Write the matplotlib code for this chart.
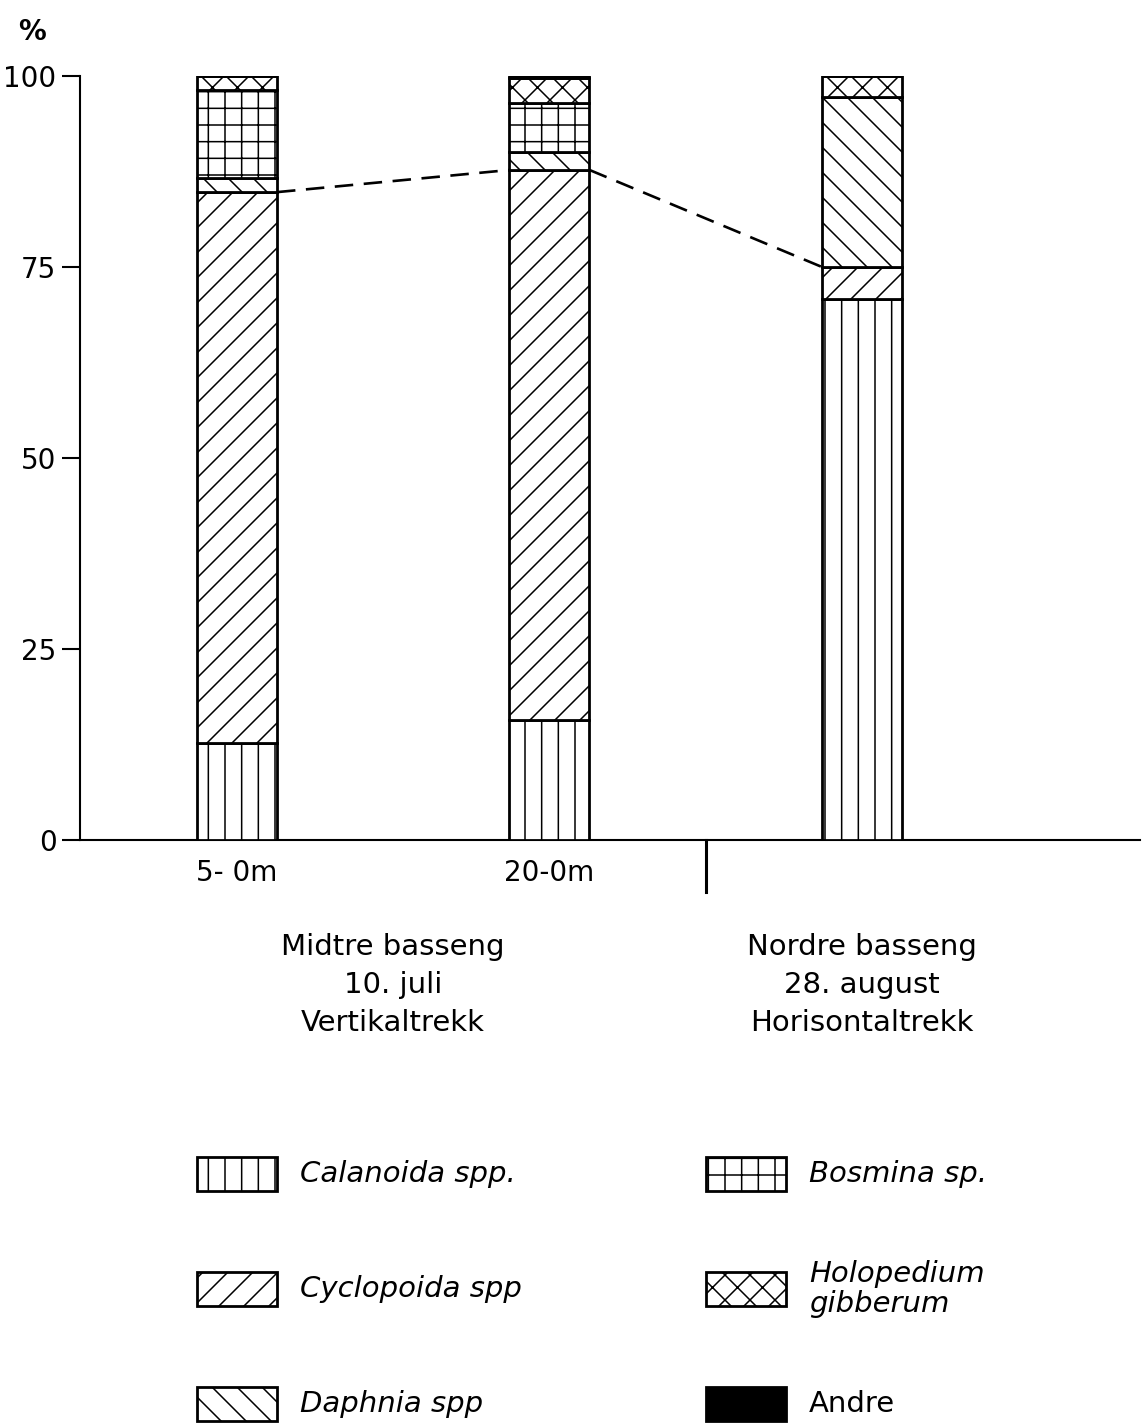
#!/usr/bin/env python

# Zooplankton composition (%) - stacked, hatched bars for three samples

import numpy as np
import matplotlib

matplotlib.use("Agg")
import matplotlib.pyplot as plt
from matplotlib.backend_bases import GraphicsContextBase
from matplotlib.path import Path
from matplotlib.patches import Rectangle

# Samples and groups
samples = ["5- 0m", "20-0m", ""]
groups = [
    "Midtre basseng\n10. juli\nVertikaltrekk",
    "Nordre basseng\n28. august\nHorisontaltrekk",
]
group_pos = [0.5, 2.0]
yticks = [0, 25, 50, 75, 100]

# Percent of each taxon, bottom to top
taxa = [
    "Calanoida spp.",
    "Cyclopoida spp",
    "Daphnia spp",
    "Bosmina sp.",
    "Holopedium\ngibberum",
    "Andre",
]
calanoida = [12.7, 15.7, 70.8]
cyclopoida = [72.1, 72.0, 4.2]
daphnia = [1.8, 2.35, 22.25]
bosmina = [11.6, 6.45, 0.0]
holopedium = [1.8, 3.2, 2.75]
andre = [0.0, 0.3, 0.0]
values = [calanoida, cyclopoida, daphnia, bosmina, holopedium, andre]

hatches = ["|", "/", "\\", "+", "x", None]
faces = ["white", "white", "white", "white", "white", "black"]

# Hatch spacing per pattern (hatch unit = dpi pixels)
hatch_density = {"|": 6, "+": 6, "/": 8, "\\": 8, "x": 8}


def hatch_path(self, density=6.0):
    h = self.get_hatch()
    if h is None:
        return None
    return Path.hatch(h, hatch_density.get(h, density))


GraphicsContextBase.get_hatch_path = hatch_path

plt.rcParams["font.family"] = ["DejaVu Sans"]
plt.rcParams["hatch.linewidth"] = 1.1

W, H = 1144, 1427
fig = plt.figure(figsize=(W / 100, H / 100), dpi=100, facecolor="white")

# Axes placed in pixel terms of the original page
ax = fig.add_axes([80 / W, (H - 840) / H, (1140 - 80) / W, (840 - 76) / H])
ax.set_xlim(-0.5024, 2.8896)
ax.set_ylim(0, 100)

x = np.arange(len(samples))
width = 0.256
bottom = np.zeros(len(samples))
for vals, hatch, face in zip(values, hatches, faces):
    ax.bar(
        x,
        vals,
        width,
        bottom=bottom,
        facecolor=face,
        edgecolor="black",
        hatch=hatch,
        linewidth=2.0,
        zorder=3,
    )
    bottom = bottom + np.array(vals)

# Dashed line joining the Calanoida + Cyclopoida totals
cum = np.array(calanoida) + np.array(cyclopoida)
for i in range(len(samples) - 1):
    ax.plot(
        [x[i] + width / 2, x[i + 1] - width / 2],
        [cum[i], cum[i + 1]],
        color="black",
        linestyle=(0, (7, 4)),
        linewidth=1.9,
        zorder=2,
    )

# Axes styling
for side in ["top", "right"]:
    ax.spines[side].set_visible(False)
ax.spines["left"].set_linewidth(1.5)
ax.spines["bottom"].set_linewidth(1.5)
ax.set_yticks(yticks)
ax.tick_params(axis="y", length=13, width=1.5, pad=4, labelsize=20, direction="out")
ax.set_xticks(x[:2])
ax.set_xticklabels(samples[:2])
ax.tick_params(axis="x", length=0, pad=14, labelsize=20)

ax.text(-0.045, 1.058, "%", transform=ax.transAxes, fontsize=20,
        fontweight="bold", ha="center", va="center")

# Divider between the basins, below the axis
ax.plot([1.5, 1.5], [0, -0.068], transform=ax.get_xaxis_transform(),
        color="black", linewidth=2.2, clip_on=False)

for pos, lab in zip(group_pos, groups):
    ax.text(pos, -0.19, lab, transform=ax.get_xaxis_transform(), fontsize=21,
            ha="center", va="center", multialignment="center", linespacing=1.45)

# Legend drawn on a page-size overlay
lax = fig.add_axes([0, 0, 1, 1])
lax.set_xlim(0, W)
lax.set_ylim(H, 0)
lax.axis("off")

col_x = [197, 706]
row_y = [1174, 1289, 1404]
for i, (name, hatch, face) in enumerate(zip(taxa, hatches, faces)):
    cx = col_x[i // 3]
    cy = row_y[i % 3]
    lax.add_patch(Rectangle((cx, cy - 17), 80, 34, facecolor=face,
                            edgecolor="black", hatch=hatch, linewidth=2.0))
    lax.text(cx + 103, cy, name, fontsize=21,
             style="normal" if name == "Andre" else "italic",
             ha="left", va="center", linespacing=1.1)

fig.savefig("out.png", dpi=100, facecolor="white")
